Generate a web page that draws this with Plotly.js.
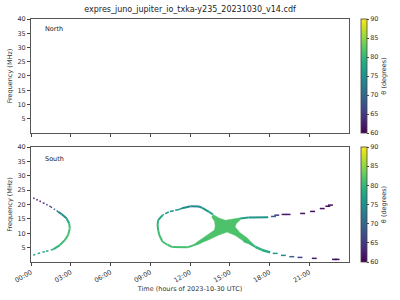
<!DOCTYPE html>
<html><head><meta charset="utf-8">
<script src="https://cdn.plot.ly/plotly-3.0.1.min.js"></script>
<style>html,body{margin:0;padding:0;background:#fff}</style>
</head><body><div id="chart" style="width:400px;height:300px"></div>
<script>
// ---- axes / ticks ----
const tickHours = [0, 3, 6, 9, 12, 15, 18, 21];
const tickLabels = ["00:00", "03:00", "06:00", "09:00", "12:00", "15:00", "18:00", "21:00"];
const freqTicks = [5, 10, 15, 20, 25, 30, 35, 40];
const thetaTicks = [60, 65, 70, 75, 80, 85, 90];

// ---- North hemisphere: no emission (missing values) ----
const northTime = [null];
const northFreq = [null];
const northTheta = [null];

// ---- South hemisphere (time in hours, freq MHz, theta degrees) ----
// first feature, upper dotted part
const s1UpT = [0.17, 0.92, 1.5, 2.05];
const s1UpF = [22.3, 20.6, 19.2, 17.5];
const s1UpTh = [61, 63, 68, 72];
// first feature, solid arc
const s1ArcT = [2.05, 2.3, 2.68, 2.88, 2.93, 2.8, 2.55, 2.18, 1.68];
const s1ArcF = [17.5, 16.7, 15.2, 13.4, 11.7, 9.4, 7.6, 5.9, 4.4];
const s1ArcTh = [72, 73, 77, 80, 81, 81, 81, 80, 79];
// first feature, lower dotted part
const s1LoT = [1.68, 1.05, 0.3, 0.17];
const s1LoF = [4.4, 3.6, 2.65, 2.3];
const s1LoTh = [79, 78, 77, 77];
// loop: top part (solid)
const loopTopT = [13.73, 13.43, 12.93, 12.68, 12.05, 11.4];
const loopTopF = [16.55, 17.45, 18.85, 19.3, 19.4, 18.7];
const loopTopTh = [79, 77, 75, 74, 74, 75];
// loop: upper-left part (dashed)
const loopULT = [11.4, 11.18, 10.4, 9.93];
const loopULF = [18.7, 18.3, 17.45, 16.3];
const loopULTh = [75, 75, 76, 77];
// loop: left and bottom (solid)
const loopLoT = [9.93, 9.6, 9.55, 9.6, 9.68, 9.93, 10.3, 10.68, 11.8, 12.68, 13.3];
const loopLoF = [16.3, 14.6, 12.9, 11.1, 9.4, 7.05, 6.0, 5.2, 5.1, 6.5, 8.2];
const loopLoTh = [77, 79, 80, 80, 81, 81, 81, 81, 81, 81, 81];
// dense crossing region (outline)
const crossT = [13.73, 14.18, 14.68, 15.18, 15.8, 15.8, 15.5, 15.4, 15.75, 16.3, 16.8, 16.05, 15.43, 14.8, 14.18, 13.3, 12.3, 12.43, 13.43, 13.85, 13.9, 13.85, 13.63];
const crossF = [16.55, 15.3, 14.5, 14.9, 15.4, 14.7, 13.4, 12.25, 10.3, 8.4, 6.1, 7.2, 9.2, 10.4, 9.4, 7.5, 5.9, 6.6, 9.6, 11.1, 12.6, 14.2, 15.7];
const crossTheta = 81.5;
// right upper branch, solid
const rUpT = [15.8, 16.4, 17.9];
const rUpF = [15.1, 15.5, 15.55];
const rUpTh = [78, 76, 75];
// right upper branch, dots
const rUpDotT = [18.3, 18.55, 19.1, 19.4, 20.5, 21.25, 21.98, 22.4, 22.6];
const rUpDotF = [15.85, 16.3, 16.55, 16.55, 16.9, 17.6, 18.6, 19.4, 19.8];
const rUpDotTh = [68, 65, 62, 62, 61, 61, 61, 61, 61];
// right lower branch, solid
const rLoT = [16.05, 16.43, 16.93, 17.43, 18.05];
const rLoF = [7.4, 6.7, 5.3, 4.2, 3.35];
const rLoTh = [81, 80, 80, 79, 78];
// right lower branch, dots
const rLoDotT = [18.43, 19.05, 19.68, 20.3, 21.38, 22.9, 23.1];
const rLoDotF = [3.0, 2.3, 1.85, 1.6, 1.27, 0.9, 0.9];
const rLoDotTh = [76, 74, 70, 66, 62, 61, 61];

// ---- colour helper (viridis, 60..90) ----
const VIR = ['#440154','#48186a','#472d7b','#424086','#3b528b','#33638d','#2c728e','#26828e','#21918c','#1fa088','#28ae80','#3fbc73','#5ec962','#84d44b','#addc30','#d8e219','#fde725'];
function hex2rgb(h){return [parseInt(h.substr(1,2),16),parseInt(h.substr(3,2),16),parseInt(h.substr(5,2),16)];}
function viridis(v){
  let t=(v-60)/30; t=Math.max(0,Math.min(1,t));
  const p=t*(VIR.length-1); const i=Math.min(Math.floor(p),VIR.length-2); const fr=p-i;
  const a=hex2rgb(VIR[i]), b=hex2rgb(VIR[i+1]);
  const c=a.map((x,k)=>Math.round(x+(b[k]-x)*fr));
  return 'rgb('+c.join(',')+')';
}

const FONT = 'DejaVu Sans, sans-serif';
const traces = [];
function segs(t, f, th, width, dash){
  for(let i=0;i<t.length-1;i++){
    traces.push({x:[t[i],t[i+1]], y:[f[i],f[i+1]], mode:'lines', xaxis:'x2', yaxis:'y2',
      line:{color:viridis((th[i]+th[i+1])/2), width:width, dash:dash||'solid'},
      hoverinfo:'skip', showlegend:false});
  }
}
function cbar(y, yanchor, len){
  return {x:1.034, xanchor:'left', y:y, yanchor:yanchor, len:len, lenmode:'fraction',
    thickness:6, thicknessmode:'pixels', outlinewidth:0.8, outlinecolor:'#444',
    xpad:0, ypad:0, tickvals:thetaTicks, ticks:'outside', ticklen:2, tickcolor:'#444',
    tickfont:{family:FONT,size:6.5,color:'#333'},
    title:{text:'θ (degrees)', side:'right', font:{family:FONT,size:6.5,color:'#333'}}};
}

// North (no emission), carries the upper colour bar
traces.push({x:northTime, y:northFreq, mode:'markers', xaxis:'x', yaxis:'y', showlegend:false, hoverinfo:'skip',
  marker:{color:northTheta, colorscale:'Viridis', cmin:60, cmax:90, showscale:true, colorbar:cbar(1,'top',0.469)}});

// South
traces.push({x:crossT, y:crossF, mode:'lines', fill:'toself', fillcolor:viridis(crossTheta),
  line:{color:viridis(crossTheta), width:0.5}, xaxis:'x2', yaxis:'y2', hoverinfo:'skip', showlegend:false});
segs(s1UpT, s1UpF, s1UpTh, 1.5, '1.5px,2px');
segs(s1ArcT, s1ArcF, s1ArcTh, 2);
segs(s1LoT, s1LoF, s1LoTh, 1.5, '2.5px,2.5px');
segs(loopTopT, loopTopF, loopTopTh, 2);
segs(loopULT, loopULF, loopULTh, 1.5, '4px,1.5px');
segs(loopLoT, loopLoF, loopLoTh, 2);
segs(rUpT, rUpF, rUpTh, 2);
segs(rLoT, rLoF, rLoTh, 2.5);
traces.push({x:rLoDotT, y:rLoDotF, mode:'markers', xaxis:'x2', yaxis:'y2', showlegend:false, hoverinfo:'skip',
  marker:{symbol:'line-ew', size:3.5, color:rLoDotTh, colorscale:'Viridis', cmin:60, cmax:90, showscale:false,
    line:{width:1.5, color:rLoDotTh.map(viridis)}}});
traces.push({x:rUpDotT, y:rUpDotF, mode:'markers', xaxis:'x2', yaxis:'y2', showlegend:false, hoverinfo:'skip',
  marker:{symbol:'line-ew', size:3.5, color:rUpDotTh, colorscale:'Viridis', cmin:60, cmax:90, showscale:true,
    colorbar:cbar(0,'bottom',0.473), line:{width:1.5, color:rUpDotTh.map(viridis)}}});

const axBase = {range:[0,24], tickvals:tickHours, ticktext:tickLabels, ticks:'outside', ticklen:3,
  tickcolor:'#444', showline:true, linecolor:'#555', linewidth:1, mirror:true, showgrid:false, zeroline:false,
  tickfont:{family:FONT,size:6.5,color:'#333'}};
const ayBase = {range:[0,40], tickvals:freqTicks, ticks:'outside', ticklen:3, tickcolor:'#444',
  showline:true, linecolor:'#555', linewidth:1, mirror:true, showgrid:false, zeroline:false,
  tickfont:{family:FONT,size:6.5,color:'#333'},
  title:{text:'Frequency (MHz)', font:{family:FONT,size:6.5,color:'#333'}, standoff:4}};

const layout = {
  width:400, height:300, margin:{l:31, r:50, t:19, b:38},
  paper_bgcolor:'#fff', plot_bgcolor:'#fff', showlegend:false,
  title:{text:'expres_juno_jupiter_io_txka-y235_20231030_v14.cdf', font:{family:FONT,size:8,color:'#222'}, x:0.5, xref:'paper', y:0.978, yanchor:'top'},
  xaxis:Object.assign({}, axBase, {anchor:'y', domain:[0,1], showticklabels:false}),
  xaxis2:Object.assign({}, axBase, {anchor:'y2', domain:[0,1], tickangle:-30,
    title:{text:'Time (hours of 2023-10-30 UTC)', font:{family:FONT,size:6.5,color:'#333'}, standoff:2}}),
  yaxis:Object.assign({}, ayBase, {anchor:'x', domain:[0.531,1]}),
  yaxis2:Object.assign({}, ayBase, {anchor:'x2', domain:[0,0.473]}),
  annotations:[
    {text:'North', xref:'x domain', yref:'y domain', x:0.038, y:0.91, xanchor:'left', yanchor:'middle', showarrow:false, font:{family:FONT,size:6.5,color:'#222'}},
    {text:'South', xref:'x2 domain', yref:'y2 domain', x:0.038, y:0.90, xanchor:'left', yanchor:'middle', showarrow:false, font:{family:FONT,size:6.5,color:'#222'}}
  ]
};
Plotly.newPlot('chart', traces, layout, {staticPlot:true, displayModeBar:false});
</script></body></html>
